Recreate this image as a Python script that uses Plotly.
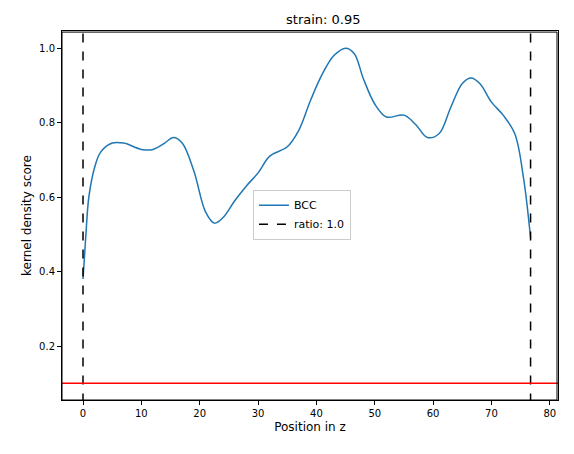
import plotly.graph_objects as go

z_pos = [0, 0.5, 1, 2, 3, 5, 7, 10, 12, 14, 15.5, 17, 19, 21, 22.5, 24, 26, 28, 30, 32, 35,
         37, 39, 41, 43, 45, 46.5, 48, 50, 52, 55, 57, 59, 61, 63, 65, 66.5, 68, 70, 72,
         74, 75.5, 76.7]
kde = [0.38, 0.5, 0.6, 0.68, 0.72, 0.745, 0.745, 0.728, 0.728, 0.745, 0.76, 0.745, 0.67,
       0.56, 0.53, 0.545, 0.59, 0.63, 0.665, 0.71, 0.735, 0.78, 0.86, 0.93, 0.98, 1.0,
       0.985, 0.92, 0.85, 0.815, 0.82, 0.795, 0.76, 0.77, 0.84, 0.905, 0.92, 0.905, 0.855,
       0.82, 0.77, 0.65, 0.49]
bounds = [0, 76.7]
threshold = 0.1

fig = go.Figure()
fig.add_trace(go.Scatter(x=z_pos, y=kde, mode="lines", name="BCC",
                         line=dict(color="#1f77b4", width=1.5, shape="spline")))
fig.add_trace(go.Scatter(x=[bounds[0], bounds[0], None, bounds[1], bounds[1]],
                         y=[0, 1.1, None, 0, 1.1], mode="lines", name="ratio: 1.0",
                         line=dict(color="black", width=1.5, dash="dash")))
fig.add_hline(y=threshold, line=dict(color="red", width=1.5))
# axes frame
fig.add_shape(type="rect", xref="paper", yref="paper", x0=0, y0=0, x1=0.998, y1=0.997,
              line=dict(color="black", width=1))

# page has an 8px body margin, so the figure is sized and offset for that
ax = dict(showgrid=False, zeroline=False, showline=True, mirror=True, linecolor="black",
          linewidth=1, ticks="outside", ticklen=4, tickcolor="black", automargin=False)
fig.update_layout(
    width=558, height=438, plot_bgcolor="white", paper_bgcolor="white",
    margin=dict(l=54, r=8, t=23, b=46),
    font=dict(family="DejaVu Sans", size=10, color="black"),
    title=dict(text="strain: 0.95", x=0.565, xanchor="center", y=0.985, font=dict(size=13)),
    xaxis=dict(ax, title=dict(text="Position in z", standoff=4), range=[-3.6, 81.4],
               tickvals=list(range(0, 90, 10))),
    yaxis=dict(ax, title=dict(text="kernel density score", standoff=4), range=[0.055, 1.046],
               tickvals=[0.2, 0.4, 0.6, 0.8, 1.0], tickformat=".1f"),
    legend=dict(x=0.385, y=0.57, xanchor="left", yanchor="top", bordercolor="#cccccc",
                borderwidth=1, bgcolor="white", font=dict(size=11)),
)
fig.write_html("out.html")
